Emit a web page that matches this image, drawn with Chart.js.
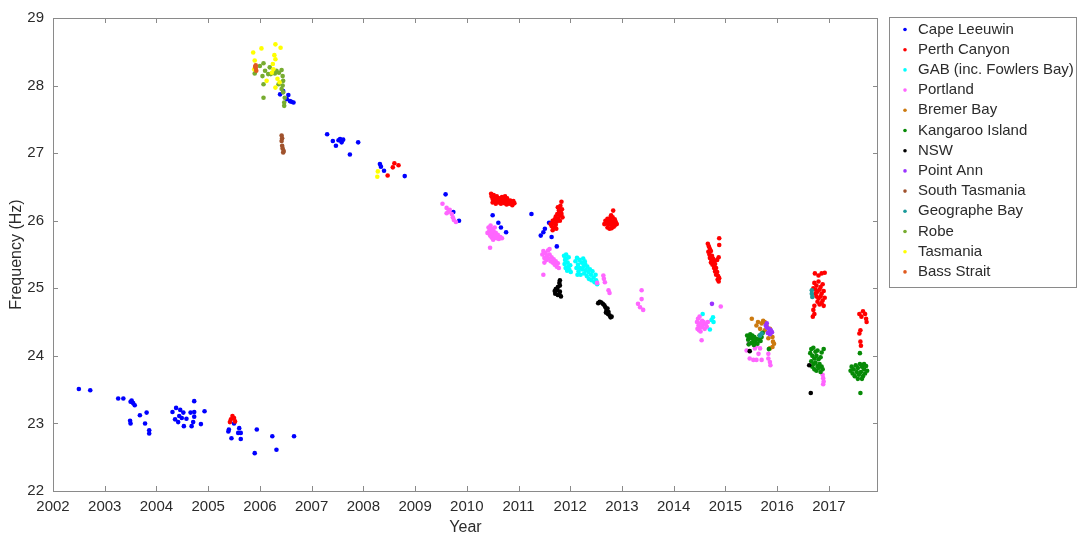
<!DOCTYPE html>
<html>
<head>
<meta charset="utf-8">
<title>Frequency by year</title>
<script src="https://cdn.jsdelivr.net/npm/chart.js@4.4.1/dist/chart.umd.min.js"></script>
<style>
  html, body { margin: 0; padding: 0; background: #fff; }
  #wrap { width: 1078px; height: 539px; position: relative; }
</style>
</head>
<body>
<div id="wrap"><canvas id="c" width="1078" height="539"></canvas></div>
<script>
// Axis ticks
const yearTicks = [2002, 2003, 2004, 2005, 2006, 2007, 2008, 2009, 2010, 2011, 2012, 2013, 2014, 2015, 2016, 2017];
const freqTicks = [22, 23, 24, 25, 26, 27, 28, 29];

// Series: [year, frequency (Hz)]
const capeLeeuwin = [
  [2002.50,23.51],[2002.72,23.49],[2003.26,23.37],[2003.36,23.37],[2003.52,23.34],[2003.55,23.30],
  [2003.50,23.32],[2003.58,23.27],[2003.68,23.12],[2003.81,23.16],[2003.49,23.04],[2003.50,23.00],
  [2003.78,23.00],[2003.86,22.90],[2003.86,22.85],
  [2004.31,23.17],[2004.38,23.23],[2004.46,23.20],[2004.52,23.16],[2004.44,23.11],[2004.49,23.08],
  [2004.36,23.06],[2004.42,23.02],[2004.53,22.96],[2004.58,23.07],[2004.66,23.16],[2004.73,23.33],
  [2004.73,23.17],[2004.73,23.10],[2004.71,23.02],[2004.68,22.96],[2004.93,23.18],[2004.86,22.99],
  [2005.40,22.91],[2005.39,22.88],[2005.45,22.78],[2005.60,22.93],[2005.58,22.86],[2005.63,22.86],
  [2005.63,22.77],[2005.94,22.91],[2006.24,22.81],[2005.90,22.56],[2006.32,22.61],[2006.66,22.81],
  [2005.50,23.00],
  [2006.39,27.87],[2006.45,27.92],[2006.55,27.86],[2006.52,27.80],[2006.58,27.77],[2006.65,27.75],[2006.61,27.76],
  [2007.30,27.28],[2007.41,27.18],[2007.52,27.19],[2007.55,27.21],[2007.61,27.20],[2007.58,27.16],
  [2007.47,27.11],[2007.74,26.98],[2007.90,27.16],
  [2008.32,26.84],[2008.34,26.80],[2008.40,26.74],[2008.80,26.66],
  [2009.59,26.39],[2009.74,26.13],[2009.85,26.00],
  [2010.50,26.08],[2010.61,25.97],[2010.66,25.90],[2010.76,25.83],
  [2011.25,26.10],[2011.59,25.97],[2011.51,25.88],[2011.48,25.83],[2011.43,25.78],[2011.64,25.76],[2011.74,25.62]
];

const perthCanyon = [
  [2005.47,23.11],[2005.44,23.06],[2005.50,23.08],[2005.42,23.02],[2005.52,23.03],
  [2008.60,26.85],[2008.68,26.82],[2008.57,26.79],[2008.47,26.67],
  [2010.47,26.40],[2010.48,26.36],[2010.50,26.32],[2010.52,26.38],[2010.53,26.30],[2010.55,26.34],
  [2010.57,26.28],[2010.58,26.36],[2010.60,26.31],[2010.62,26.27],[2010.63,26.33],[2010.65,26.30],
  [2010.66,26.25],[2010.68,26.35],[2010.70,26.28],[2010.71,26.32],[2010.73,26.26],[2010.75,26.30],
  [2010.77,26.24],[2010.78,26.33],[2010.80,26.28],[2010.82,26.25],[2010.84,26.30],[2010.86,26.27],
  [2010.88,26.23],[2010.90,26.29],[2010.92,26.26],[2010.50,26.27],[2010.56,26.25],[2010.74,26.36],
  [2011.83,26.28],[2011.81,26.22],[2011.84,26.17],[2011.78,26.15],[2011.82,26.12],[2011.75,26.10],
  [2011.80,26.08],[2011.85,26.05],[2011.72,26.06],[2011.77,26.03],[2011.70,26.02],[2011.74,25.99],
  [2011.80,26.00],[2011.66,26.00],[2011.68,25.96],[2011.72,25.94],[2011.64,25.92],[2011.70,25.90],
  [2011.66,25.86],[2011.73,25.88],[2011.62,25.95],[2011.78,26.18],[2011.76,26.20],[2011.83,26.10],
  [2012.83,26.15],[2012.79,26.08],[2012.82,26.05],[2012.86,26.02],[2012.68,26.00],[2012.72,26.03],
  [2012.76,26.01],[2012.80,25.99],[2012.84,25.97],[2012.88,25.98],[2012.66,25.95],[2012.70,25.96],
  [2012.74,25.94],[2012.78,25.95],[2012.82,25.92],[2012.86,25.93],[2012.72,25.90],[2012.76,25.88],
  [2012.80,25.89],[2012.84,25.91],[2012.90,25.95],[2012.78,26.05],[2012.74,25.98],
  [2014.88,25.74],[2014.88,25.64],[2014.68,25.62],[2014.70,25.58],[2014.67,25.54],[2014.72,25.55],
  [2014.69,25.50],[2014.74,25.48],[2014.70,25.45],[2014.73,25.42],[2014.76,25.44],[2014.72,25.38],
  [2014.78,25.40],[2014.75,25.35],[2014.80,25.36],[2014.78,25.30],[2014.82,25.30],[2014.80,25.25],
  [2014.84,25.24],[2014.82,25.20],[2014.86,25.18],[2014.85,25.13],[2014.88,25.15],[2014.87,25.10],
  [2014.84,25.42],[2014.87,25.46],[2014.66,25.66],
  [2016.73,25.22],[2016.80,25.19],[2016.86,25.22],[2016.92,25.23],[2016.72,25.08],[2016.76,25.04],
  [2016.80,25.10],[2016.84,25.02],[2016.88,25.06],[2016.74,24.98],[2016.78,24.95],[2016.82,24.98],
  [2016.86,24.92],[2016.90,24.96],[2016.76,24.88],[2016.80,24.85],[2016.84,24.88],[2016.88,24.82],
  [2016.92,24.86],[2016.78,24.80],[2016.82,24.76],[2016.86,24.78],[2016.90,24.74],[2016.72,24.74],
  [2016.70,24.68],[2016.72,24.62],[2016.69,24.58],[2016.74,24.92],[2016.70,25.00],
  [2017.59,24.62],[2017.66,24.66],[2017.70,24.62],[2017.72,24.55],[2017.73,24.50],[2017.63,24.58],
  [2017.61,24.38],[2017.59,24.33],[2017.61,24.21],[2017.62,24.15]
];

const gab = [
  [2011.88,25.48],[2011.90,25.42],[2011.92,25.50],[2011.89,25.36],[2011.93,25.44],[2011.95,25.38],
  [2011.91,25.30],[2011.96,25.32],[2011.94,25.26],[2011.98,25.28],[2012.00,25.34],[2011.97,25.46],[2012.01,25.24],
  [2012.10,25.40],[2012.12,25.30],[2012.13,25.45],[2012.15,25.35],[2012.16,25.25],[2012.18,25.42],
  [2012.19,25.30],[2012.20,25.20],[2012.22,25.38],[2012.23,25.28],[2012.25,25.44],[2012.26,25.33],
  [2012.27,25.22],[2012.29,25.36],[2012.30,25.27],[2012.32,25.18],[2012.33,25.32],[2012.35,25.24],
  [2012.36,25.14],[2012.38,25.28],[2012.40,25.20],[2012.41,25.12],[2012.43,25.25],[2012.45,25.16],
  [2012.47,25.09],[2012.49,25.20],[2012.50,25.12],[2012.52,25.06],[2012.14,25.20],[2012.28,25.40],
  [2014.56,24.62],[2014.76,24.57],[2014.77,24.50],[2014.70,24.39],[2014.73,24.53]
];

const portland = [
  [2009.53,26.25],[2009.61,26.19],[2009.64,26.13],[2009.67,26.16],[2009.71,26.10],[2009.73,26.05],
  [2009.75,26.01],[2009.79,25.98],[2009.61,26.11],
  [2010.40,25.82],[2010.42,25.90],[2010.44,25.86],[2010.45,25.78],[2010.46,25.93],[2010.47,25.83],
  [2010.48,25.75],[2010.49,25.88],[2010.50,25.80],[2010.51,25.72],[2010.52,25.84],[2010.53,25.78],
  [2010.55,25.76],[2010.56,25.82],[2010.58,25.74],[2010.60,25.79],[2010.62,25.73],[2010.65,25.76],
  [2010.68,25.74],[2010.45,25.60],[2010.50,25.86],[2010.54,25.90],
  [2011.46,25.50],[2011.48,25.55],[2011.50,25.45],[2011.52,25.52],[2011.54,25.42],[2011.55,25.48],
  [2011.57,25.56],[2011.58,25.44],[2011.60,25.50],[2011.62,25.40],[2011.64,25.46],[2011.66,25.38],
  [2011.68,25.43],[2011.70,25.35],[2011.72,25.40],[2011.74,25.32],[2011.76,25.37],[2011.78,25.30],
  [2011.50,25.38],[2011.48,25.20],[2011.60,25.58],
  [2012.52,25.08],[2012.64,25.19],[2012.65,25.14],[2012.67,25.09],[2012.74,24.97],[2012.76,24.93],
  [2013.38,24.97],[2013.38,24.84],[2013.31,24.77],[2013.35,24.72],[2013.41,24.68],
  [2014.45,24.50],[2014.47,24.55],[2014.48,24.45],[2014.50,24.58],[2014.51,24.48],[2014.53,24.42],
  [2014.55,24.52],[2014.56,24.45],[2014.58,24.50],[2014.60,24.40],[2014.62,24.47],[2014.64,24.43],
  [2014.49,24.38],[2014.46,24.40],[2014.54,24.23],[2014.52,24.36],[2014.66,24.50],[2014.91,24.73],
  [2015.41,24.08],[2015.47,23.96],[2015.54,23.94],[2015.60,23.94],[2015.70,23.94],[2015.83,23.96],
  [2015.86,23.91],[2015.87,23.86],[2015.64,24.03],[2015.57,24.11],[2015.67,24.11],[2015.45,24.18],
  [2015.83,24.03],[2015.60,24.15],
  [2016.88,23.72],[2016.89,23.67],[2016.90,23.62],[2016.89,23.58]
];

const bremerBay = [
  [2015.51,24.55],[2015.63,24.50],[2015.70,24.48],[2015.76,24.50],[2015.80,24.43],[2015.86,24.40],
  [2015.89,24.35],[2015.91,24.28],[2015.92,24.21],[2015.91,24.13],[2015.86,24.11],[2015.83,24.26],
  [2015.76,24.38],[2015.67,24.40],[2015.60,24.45],[2015.73,24.52],[2015.94,24.18]
];

const kangarooIsland = [
  [2015.42,24.30],[2015.44,24.24],[2015.46,24.28],[2015.48,24.32],[2015.50,24.26],[2015.52,24.30],
  [2015.54,24.22],[2015.56,24.28],[2015.58,24.20],[2015.60,24.25],[2015.62,24.18],[2015.64,24.24],
  [2015.66,24.30],[2015.68,24.22],[2015.70,24.28],[2015.72,24.34],[2015.50,24.19],[2015.45,24.17],
  [2015.55,24.16],[2015.84,24.10],
  [2016.66,24.10],[2016.70,24.12],[2016.74,24.06],[2016.78,24.08],[2016.86,24.05],[2016.68,24.00],
  [2016.72,23.96],[2016.76,24.00],[2016.80,23.95],[2016.84,23.98],[2016.66,23.92],[2016.70,23.88],
  [2016.74,23.90],[2016.78,23.85],[2016.82,23.88],[2016.86,23.84],[2016.72,23.80],[2016.76,23.78],
  [2016.80,23.82],[2016.84,23.76],[2016.88,23.80],[2016.68,23.84],[2016.64,24.04],[2016.90,24.10],
  [2017.44,23.84],[2017.48,23.80],[2017.52,23.86],[2017.56,23.82],[2017.60,23.88],[2017.64,23.84],
  [2017.68,23.80],[2017.72,23.85],[2017.46,23.74],[2017.50,23.70],[2017.54,23.76],[2017.58,23.72],
  [2017.62,23.76],[2017.66,23.70],[2017.70,23.74],[2017.74,23.78],[2017.42,23.78],[2017.56,23.66],
  [2017.64,23.66],[2017.68,23.88],[2017.60,24.04],[2017.61,23.45]
];

const nsw = [
  [2011.80,25.12],[2011.79,25.08],[2011.80,25.04],[2011.76,25.02],[2011.72,24.99],[2011.70,24.96],
  [2011.75,24.97],[2011.80,24.95],[2011.71,24.92],[2011.76,24.90],[2011.82,24.88],[2011.79,24.91],
  [2012.54,24.78],[2012.57,24.80],[2012.60,24.79],[2012.63,24.77],[2012.66,24.75],[2012.68,24.72],
  [2012.70,24.68],[2012.72,24.70],[2012.74,24.65],[2012.73,24.62],[2012.76,24.60],[2012.78,24.57],
  [2012.80,24.58],[2012.69,24.64],
  [2015.47,24.07],[2016.62,23.86],[2016.65,23.45]
];

const pointAnn = [
  [2014.74,24.77],
  [2015.80,24.42],[2015.84,24.40],[2015.88,24.38],[2015.82,24.34],[2015.86,24.32],[2015.90,24.35],
  [2015.78,24.45],[2015.80,24.48]
];

const southTasmania = [
  [2006.42,27.26],[2006.43,27.22],[2006.42,27.18],[2006.43,27.11],[2006.44,27.07],[2006.46,27.03],[2006.45,27.01]
];

const geographeBay = [
  [2015.67,24.30],[2015.70,24.33],[2016.67,24.97],[2016.67,24.92],[2016.68,24.87]
];

const robe = [
  [2006.07,28.33],[2006.00,28.29],[2006.10,28.22],[2006.05,28.14],[2006.16,28.17],[2006.19,28.27],
  [2006.21,28.17],[2006.29,28.18],[2006.32,28.22],[2006.37,28.19],[2006.42,28.23],[2006.44,28.14],
  [2006.45,28.07],[2006.44,28.00],[2006.42,27.95],[2006.36,28.02],[2006.45,27.90],[2006.48,27.82],
  [2006.47,27.75],[2006.47,27.70],[2006.07,28.02],[2006.07,27.82],[2005.90,28.18]
];

const tasmania = [
  [2005.87,28.49],[2006.03,28.55],[2006.30,28.61],[2006.40,28.56],[2006.28,28.45],[2006.30,28.39],
  [2006.25,28.32],[2006.26,28.24],[2006.23,28.19],[2006.13,28.07],[2006.30,27.97],[2006.34,28.10],
  [2006.38,28.05],[2005.90,28.37],[2005.89,28.24],
  [2008.28,26.73],[2008.27,26.65]
];

const bassStrait = [
  [2005.92,28.30],[2005.92,28.26],[2005.93,28.22],[2005.91,28.28]
];

const seriesNames = ['Cape Leeuwin', 'Perth Canyon', 'GAB (inc. Fowlers Bay)', 'Portland', 'Bremer Bay',
  'Kangaroo Island', 'NSW', 'Point Ann', 'South Tasmania', 'Geographe Bay', 'Robe', 'Tasmania', 'Bass Strait'];
const seriesData = [capeLeeuwin, perthCanyon, gab, portland, bremerBay, kangarooIsland, nsw, pointAnn,
  southTasmania, geographeBay, robe, tasmania, bassStrait];
const seriesColors = ['#0000FF', '#FF0000', '#00FFFF', '#FF66FF', '#CC7A10', '#078A07', '#000000', '#9933FF',
  '#A0522D', '#1A9A9A', '#77AC30', '#FFFF00', '#E05A1E'];

const datasets = seriesNames.map((name, i) => ({
  label: name,
  data: seriesData[i].map(p => ({ x: p[0], y: p[1] })),
  backgroundColor: seriesColors[i],
  borderColor: seriesColors[i],
  borderWidth: 0,
  pointRadius: 2.3,
  pointHoverRadius: 2.3,
  pointStyle: 'circle',
  order: seriesNames.length - i
}));

const FONT = '"Liberation Sans", Arial, sans-serif';
const AXIS = '#8a8a8a';
const TEXT = '#2b2b2b';

// Frame, inward ticks, axis titles and the boxed legend
const framePlugin = {
  id: 'frame',
  afterDraw(chart) {
    const { ctx, chartArea: a, scales } = chart;
    ctx.save();
    ctx.strokeStyle = AXIS;
    ctx.lineWidth = 1;
    ctx.strokeRect(a.left + 0.5, a.top + 0.5, a.right - a.left - 1, a.bottom - a.top);
    const tl = 5;
    ctx.beginPath();
    yearTicks.forEach(v => {
      const px = Math.round(scales.x.getPixelForValue(v)) + 0.5;
      ctx.moveTo(px, a.bottom); ctx.lineTo(px, a.bottom - tl);
      ctx.moveTo(px, a.top); ctx.lineTo(px, a.top + tl);
    });
    freqTicks.forEach(v => {
      const py = Math.round(scales.y.getPixelForValue(v)) + 0.5;
      ctx.moveTo(a.left, py); ctx.lineTo(a.left + tl, py);
      ctx.moveTo(a.right, py); ctx.lineTo(a.right - tl, py);
    });
    ctx.stroke();

    // axis titles
    ctx.fillStyle = TEXT;
    ctx.font = '16px ' + FONT;
    ctx.textAlign = 'center';
    ctx.textBaseline = 'middle';
    ctx.fillText('Year', (a.left + a.right) / 2, 528);
    ctx.save();
    ctx.translate(17, (a.top + a.bottom) / 2);
    ctx.rotate(-Math.PI / 2);
    ctx.fillText('Frequency (Hz)', 0, 0);
    ctx.restore();

    // legend
    const lx = 889, ly = 17, lw = 188, lh = 270;
    ctx.fillStyle = '#fff';
    ctx.fillRect(lx, ly, lw, lh);
    ctx.strokeStyle = AXIS;
    ctx.strokeRect(lx + 0.5, ly + 0.5, lw - 1, lh);
    ctx.font = '15px ' + FONT;
    ctx.textAlign = 'left';
    ctx.textBaseline = 'middle';
    seriesNames.forEach((name, i) => {
      const y = 29.5 + i * 20.2;
      ctx.fillStyle = seriesColors[i];
      ctx.beginPath();
      ctx.arc(905, y, 1.8, 0, Math.PI * 2);
      ctx.fill();
      ctx.fillStyle = TEXT;
      ctx.fillText(name, 918, y);
    });
    ctx.restore();
  }
};

new Chart(document.getElementById('c'), {
  type: 'scatter',
  data: { datasets },
  options: {
    responsive: false,
    animation: false,
    devicePixelRatio: 1,
    layout: { padding: { left: 0, right: 200, top: 17, bottom: 0 } },
    plugins: { legend: { display: false }, tooltip: { enabled: false } },
    scales: {
      x: {
        type: 'linear',
        min: 2002,
        max: 2017.95,
        afterBuildTicks(scale) { scale.ticks = yearTicks.map(v => ({ value: v })); },
        afterFit(scale) { scale.height = 48; },
        grid: { display: false, drawTicks: false },
        border: { display: false },
        ticks: {
          padding: 7,
          color: TEXT,
          font: { family: FONT, size: 15 },
          maxRotation: 0,
          autoSkip: false,
          callback: v => String(v)
        }
      },
      y: {
        type: 'linear',
        min: 22,
        max: 29,
        afterBuildTicks(scale) { scale.ticks = freqTicks.map(v => ({ value: v })); },
        afterFit(scale) { scale.width = 53; },
        grid: { display: false, drawTicks: false },
        border: { display: false },
        ticks: {
          padding: 9,
          color: TEXT,
          font: { family: FONT, size: 15 },
          autoSkip: false,
          callback: v => String(v)
        }
      }
    }
  },
  plugins: [framePlugin]
});
</script>
</body>
</html>
